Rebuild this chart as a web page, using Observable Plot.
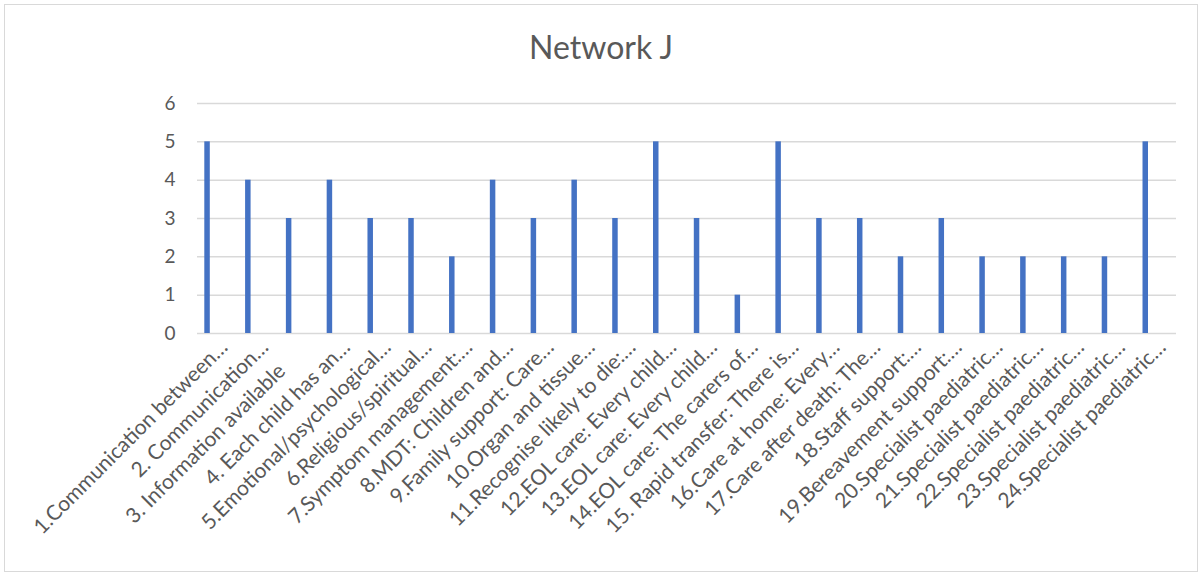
<!DOCTYPE html>
<html>
<head>
<meta charset="utf-8">
<script src="https://cdn.jsdelivr.net/npm/d3@7"></script>
<script src="https://cdn.jsdelivr.net/npm/@observablehq/plot@0.6"></script>
<style>
  html, body { margin: 0; padding: 0; background: #fff; }
  body { width: 1203px; height: 574px; position: relative; overflow: hidden; }
  #wrap { position: absolute; left: 4px; top: 4px; width: 1192px; height: 566px; border: 1.5px solid #d9d9d9; background: #fff; }
  #title { box-sizing: border-box; height: 75px; padding-top: 26px; text-align: center;
           font-family: Lato, sans-serif; font-size: 32px; line-height: 32px; color: #595959; }
  #chart svg { display: block; }
</style>
</head>
<body>
<div id="wrap">
  <div id="title">Network J</div>
  <div id="chart"></div>
</div>
<script>
const categories = [
  "1.Communication between…",
  "2. Communication…",
  "3. Information available",
  "4. Each child has an…",
  "5.Emotional/psychological…",
  "6.Religious/spiritual…",
  "7.Symptom management:…",
  "8.MDT: Children and…",
  "9.Family support: Care…",
  "10.Organ and tissue…",
  "11.Recognise likely to die:…",
  "12.EOL care: Every child…",
  "13.EOL care: Every child…",
  "14.EOL care: The carers of…",
  "15. Rapid transfer: There is…",
  "16.Care at home: Every…",
  "17.Care after death: The…",
  "18.Staff support:…",
  "19.Bereavement support:…",
  "20.Specialist paediatric…",
  "21.Specialist paediatric…",
  "22.Specialist paediatric…",
  "23.Specialist paediatric…",
  "24.Specialist paediatric…"
];
const values = [5, 4, 3, 4, 3, 3, 2, 4, 3, 4, 3, 5, 3, 1, 5, 3, 3, 2, 3, 2, 2, 2, 2, 5];
const yTicks = [0, 1, 2, 3, 4, 5, 6];

const rows = categories.map((label, i) => ({label, value: values[i]}));
const truncated = rows.filter(d => d.label.endsWith("…"));
const full = rows.filter(d => !d.label.endsWith("…"));

const textColor = "#595959";
const gridColor = "#d9d9d9";
const labelFont = 21;
const boxHalf = 100;

const chart = Plot.plot({
  width: 1192,
  height: 491,
  marginLeft: 192,
  marginRight: 21,
  marginTop: 23,
  marginBottom: 238,
  style: { fontFamily: "Lato, sans-serif", color: textColor, background: "#fff", overflow: "visible" },
  x: { type: "band", domain: categories, padding: 0, round: false, axis: null },
  y: { domain: [0, 6], axis: null, label: null },
  marks: [
    Plot.ruleY(yTicks, { y: d => d, stroke: gridColor, strokeWidth: 1.5 }),
    Plot.barY(rows, { x: "label", y: "value", fill: "#4472c4", insetLeft: 7.3, insetRight: 28 }),
    Plot.axisY({ ticks: yTicks, tickSize: 0, tickPadding: 22, fontSize: 19, fill: textColor, tickFormat: d => String(d), label: null }),
    Plot.text(truncated, {
      x: "label", text: "label", frameAnchor: "bottom",
      rotate: -45, textAnchor: "end", dx: 11, dy: 15,
      fontSize: labelFont, fill: textColor
    }),
    Plot.text(full, {
      x: "label", text: "label", frameAnchor: "bottom",
      rotate: -45, textAnchor: "middle", dx: 11 - boxHalf, dy: 15 + boxHalf,
      fontSize: labelFont, fill: textColor
    })
  ]
});
document.getElementById("chart").appendChild(chart);
</script>
</body>
</html>
